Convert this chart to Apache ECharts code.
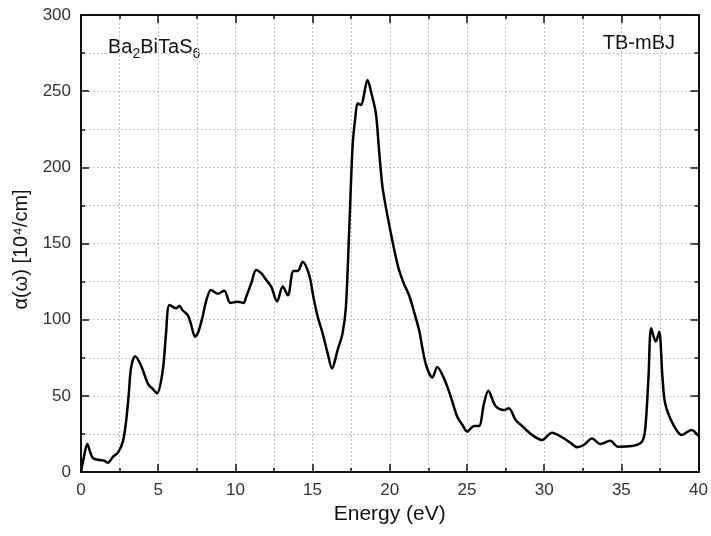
<!DOCTYPE html>
<html>
<head>
<meta charset="utf-8">
<script src="https://cdn.jsdelivr.net/npm/echarts@6/dist/echarts.min.js"></script>
<style>html,body{margin:0;padding:0;background:#fff;}#c{width:711px;height:536px;}</style>
</head>
<body>
<div id="c"></div>
<script>
const energy = [0,0.15,0.41,0.6,0.78,1.2,1.5,1.74,2.07,2.39,2.71,2.93,3.1,3.25,3.51,3.9,4.33,4.6,4.93,5.3,5.5,5.73,6.16,6.37,6.6,6.91,7.1,7.39,7.6,7.88,8.1,8.42,8.85,9.28,9.67,10.14,10.53,10.7,11.03,11.35,11.67,12.0,12.32,12.7,13.07,13.4,13.76,14.04,14.36,14.79,15.05,15.33,15.65,15.95,16.26,16.62,16.94,17.16,17.38,17.59,17.77,17.92,18.13,18.56,18.8,19.1,19.3,19.53,19.8,20.07,20.35,20.6,20.9,21.25,21.55,21.9,22.33,22.76,23.08,23.51,23.95,24.37,24.7,25.02,25.45,25.78,26.1,26.38,26.85,27.39,27.71,28.15,28.57,29.22,29.86,30.51,31.16,31.7,32.13,32.56,33.1,33.64,34.28,34.78,35.68,36.33,36.54,36.76,36.93,37.23,37.45,37.66,37.84,38.37,38.91,39.55,40];
const alpha = [0,8,18.4,13,9,7.9,7.5,6.1,10,12.7,19.9,34,52,69,76,69.6,58,55,51.7,67,90,109.7,107.5,109,106,103,98,88.8,92,102,112,119.5,117,119,111,111.8,111,115,124,132.6,130.5,126,121.7,112,121.7,116,132,132,138,129,115,102,91,79,68,80,91,108.5,161,213.6,233,242,241,257.4,249,235.5,212,187,171,156.7,143,132.6,124,116,106,93,71,62,69,61.5,49.5,36.3,31,26.5,30.2,30.2,45,53.4,43.3,40.7,41.8,34.1,30.2,24.3,21,25.8,22.8,19.2,16.2,17.7,22,18.4,20.5,16.6,17,19.9,27.6,62.6,94.3,85.6,92,62.6,45,30.9,24.3,27.6,23.6];
const xTicks = [0,5,10,15,20,25,30,35,40];
const yTicks = [0,50,100,150,200,250,300];

const font = 'Liberation Sans, Arial, sans-serif';
const chart = echarts.init(document.getElementById('c'), null, {renderer:'canvas'});
const dotted = {show:true, lineStyle:{color:'#c4c4c4', type:[2,2], width:1}};
function axisCommon(extra){
  return Object.assign({
    axisLine:{show:true, onZero:false, lineStyle:{color:'#111', width:2}},
    axisTick:{show:true, inside:true, length:8, lineStyle:{color:'#111', width:1.5}},
    minorTick:{show:true, splitNumber:2, length:4, lineStyle:{color:'#111', width:1.5}},
    splitLine:{show:false},
    minorSplitLine:{show:false}
  }, extra);
}
chart.setOption({
  animation:false,
  backgroundColor:'#fff',
  grid:{left:81, right:10, top:15, bottom:64},
  xAxis:[
    axisCommon({type:'value', position:'bottom', min:xTicks[0], max:xTicks[xTicks.length-1], interval:5,
      axisLabel:{color:'#333', fontSize:17, fontFamily:font, margin:10},
      splitLine:dotted, minorSplitLine:dotted,
      name:'Energy (eV)', nameLocation:'middle', nameGap:32,
      nameTextStyle:{color:'#111', fontSize:21, fontFamily:font}}),
    axisCommon({type:'value', position:'top', min:0, max:40, interval:5, axisLabel:{show:false}})
  ],
  yAxis:[
    axisCommon({type:'value', position:'left', min:yTicks[0], max:yTicks[yTicks.length-1], interval:50,
      axisLabel:{color:'#333', fontSize:17, fontFamily:font, margin:10},
      splitLine:dotted, minorSplitLine:dotted,
      name:'α(ω) [10⁴/cm]', nameLocation:'middle', nameGap:40,
      nameTextStyle:{color:'#111', fontSize:20, fontFamily:font, padding:[0,0,0,-12]}}),
    axisCommon({type:'value', position:'right', min:0, max:300, interval:50, axisLabel:{show:false}})
  ],
  series:[{
    type:'line', xAxisIndex:0, yAxisIndex:0,
    data: energy.map((e,i)=>[e, alpha[i]]),
    showSymbol:false, smooth:0.3,
    lineStyle:{color:'#000', width:2.5}
  }],
  graphic:[
    {type:'text', left:108, top:33, style:{
      text:'{n|Ba}{s|2}{n|BiTaS}{s|6}',
      rich:{n:{fontSize:20, fontFamily:font, fill:'#111', lineHeight:24},
            s:{fontSize:14, fontFamily:font, fill:'#111', lineHeight:24, padding:[14,0,0,0]}}
    }},
    {type:'text', right:36, top:33, style:{text:'TB-mBJ', fontSize:20, fontFamily:font, fill:'#111'}}
  ]
});
</script>
</body>
</html>
